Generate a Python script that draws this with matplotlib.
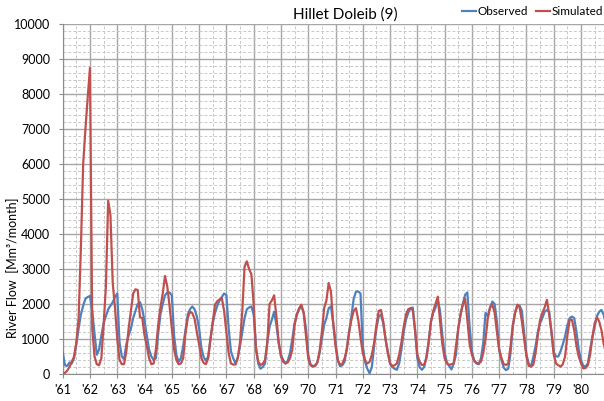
import numpy as np
import matplotlib
matplotlib.use('Agg')
import matplotlib.pyplot as plt
from matplotlib.ticker import MultipleLocator

plt.rcParams['font.family'] = ['Lato', 'DejaVu Sans']

# monthly river flow, Jan 1961 - Dec 1980 (Mm3/month)
observed = [
    620, 250, 230, 330, 300, 450, 850, 1300, 1700, 1950, 2150, 2200,      # 1961
    2230, 1800, 1150, 550, 700, 1100, 1450, 1650, 1850, 1950, 2050, 2200,  # 1962
    2300, 900, 500, 420, 850, 1100, 1300, 1600, 1800, 2000, 2050, 1850,    # 1963
    1500, 1100, 700, 500, 400, 450, 1150, 1700, 2000, 2250, 2330, 2330,    # 1964
    2250, 1100, 550, 350, 450, 800, 1260, 1700, 1850, 1930, 1850, 1650,    # 1965
    1300, 750, 480, 380, 500, 1000, 1450, 1750, 1950, 2100, 2200, 2300,    # 1966
    2250, 1300, 650, 450, 300, 470, 800, 1200, 1600, 1850, 1900, 1930,     # 1967
    1700, 800, 300, 150, 200, 300, 900, 1350, 1550, 1780, 1400, 900,       # 1968
    550, 400, 300, 380, 600, 1000, 1450, 1700, 1850, 1930, 1750, 1300,     # 1969
    550, 280, 230, 220, 330, 600, 1000, 1400, 1600, 1880, 1930, 1450,      # 1970
    900, 400, 220, 250, 350, 750, 1200, 1650, 2150, 2350, 2360, 2300,      # 1971
    800, 350, 150, 20, 200, 800, 1300, 1650, 1690, 1450, 1000, 650,        # 1972
    300, 200, 150, 120, 300, 700, 1200, 1550, 1750, 1880, 1900, 1250,      # 1973
    450, 200, 120, 200, 500, 950, 1500, 1750, 1900, 2120, 1800, 1100,      # 1974
    600, 330, 230, 130, 300, 550, 1300, 1700, 2000, 2260, 2330, 1350,      # 1975
    650, 380, 300, 280, 450, 900, 1750, 1650, 1900, 2070, 2000, 1500,      # 1976
    700, 400, 180, 110, 150, 600, 1350, 1750, 1950, 1950, 1800, 1150,      # 1977
    550, 300, 210, 480, 800, 1200, 1450, 1600, 1780, 1830, 1770, 1200,     # 1978
    620, 500, 500, 650, 850, 1080, 1400, 1600, 1640, 1600, 1200, 700,      # 1979
    400, 230, 220, 300, 700, 1050, 1350, 1650, 1780, 1830, 1690, 1400,     # 1980
]
simulated = [
    0, 30, 100, 200, 350, 500, 900, 1600, 3600, 6000, 7000, 7900,          # 1961
    8750, 1300, 500, 280, 250, 450, 1400, 2500, 4950, 4550, 2600, 1900,    # 1962
    1000, 400, 280, 280, 650, 1300, 1800, 2300, 2420, 2400, 1620, 1600,    # 1963
    1100, 800, 450, 280, 300, 700, 1400, 1900, 2300, 2800, 2500, 1950,     # 1964
    1300, 700, 400, 280, 300, 450, 1150, 1600, 1780, 1740, 1580, 1200,     # 1965
    850, 450, 320, 280, 450, 1000, 1500, 1980, 2080, 2130, 2170, 1800,     # 1966
    1200, 600, 300, 270, 270, 450, 900, 1800, 3070, 3220, 3000, 2850,      # 1967
    2000, 700, 350, 260, 290, 400, 900, 2000, 2100, 2250, 1650, 900,       # 1968
    500, 350, 300, 330, 450, 700, 1400, 1700, 1880, 1980, 1750, 1100,      # 1969
    450, 250, 210, 250, 320, 650, 1200, 1880, 2100, 2600, 2350, 1450,      # 1970
    800, 400, 260, 290, 450, 700, 1200, 1550, 1800, 1880, 1550, 1050,      # 1971
    600, 380, 300, 350, 550, 900, 1400, 1800, 1830, 1500, 1000, 600,       # 1972
    300, 230, 250, 300, 550, 900, 1350, 1700, 1850, 1880, 1820, 1250,      # 1973
    550, 350, 260, 260, 450, 900, 1500, 1800, 2000, 2210, 1500, 850,       # 1974
    450, 300, 260, 280, 300, 800, 1300, 1700, 1980, 2150, 1550, 850,       # 1975
    550, 380, 320, 300, 350, 600, 1000, 1600, 1900, 1980, 1750, 1200,      # 1976
    700, 450, 280, 260, 300, 800, 1400, 1750, 1980, 1900, 1500, 1000,      # 1977
    500, 230, 220, 260, 600, 1100, 1550, 1750, 1900, 2120, 1700, 1200,     # 1978
    550, 300, 250, 210, 280, 500, 1100, 1550, 1550, 1250, 800, 500,        # 1979
    300, 160, 170, 250, 550, 1050, 1450, 1620, 1500, 1250, 850, 600,       # 1980
]
years = list(range(1961, 1981))
year_labels = ["'" + str(y)[2:] for y in years]

months = np.arange(len(observed))

fig = plt.figure(figsize=(6.04, 4.01), dpi=100)
ax = fig.add_axes([62.7 / 604, 27 / 401, 545.6 / 604, 350 / 401])

ax.plot(months, observed, color='#4F81BD', lw=1.6, label='Observed', zorder=3)
ax.plot(months, simulated, color='#C0504D', lw=1.6, label='Simulated', zorder=4)

ax.set_xlim(0, 240)
ax.set_ylim(0, 10000)
ax.set_xticks(np.arange(0, 240, 12))
ax.set_xticklabels(year_labels)
ax.xaxis.set_minor_locator(MultipleLocator(6))
ax.yaxis.set_major_locator(MultipleLocator(1000))
ax.yaxis.set_minor_locator(MultipleLocator(200))

ax.grid(which='major', color='#a6a6a6', lw=1.0, ls='-')
ax.grid(which='minor', color='#c8c8c8', lw=0.7, ls=(0, (3, 2)))
ax.set_axisbelow(True)

for s in ['top', 'right']:
    ax.spines[s].set_visible(False)
for s in ['left', 'bottom']:
    ax.spines[s].set_color('#8c8c8c')

ax.tick_params(axis='both', which='major', labelsize=9, labelcolor='black',
               length=3, color='#8c8c8c')
ax.tick_params(axis='y', pad=6)
ax.tick_params(axis='x', pad=4)
ax.tick_params(which='minor', length=0)

# y axis title placed by hand, left of the 4-digit tick labels
fig.text(13 / 604, 1 - 268 / 401, 'River Flow  [Mm³/month]', rotation=90,
         ha='center', va='center', fontsize=9)

fig.text(345 / 604, 1 - 15 / 401, 'Hillet Doleib (9)', ha='center', va='center', fontsize=11)
ax.legend(loc='upper right', bbox_to_anchor=(603 / 604, 1 - 6 / 401),
          bbox_transform=fig.transFigure, ncol=2, frameon=False,
          fontsize=8.5, handlelength=1.2, handletextpad=0.15, columnspacing=0.6,
          borderpad=0, borderaxespad=0)

fig.savefig('out.png', dpi=100)
